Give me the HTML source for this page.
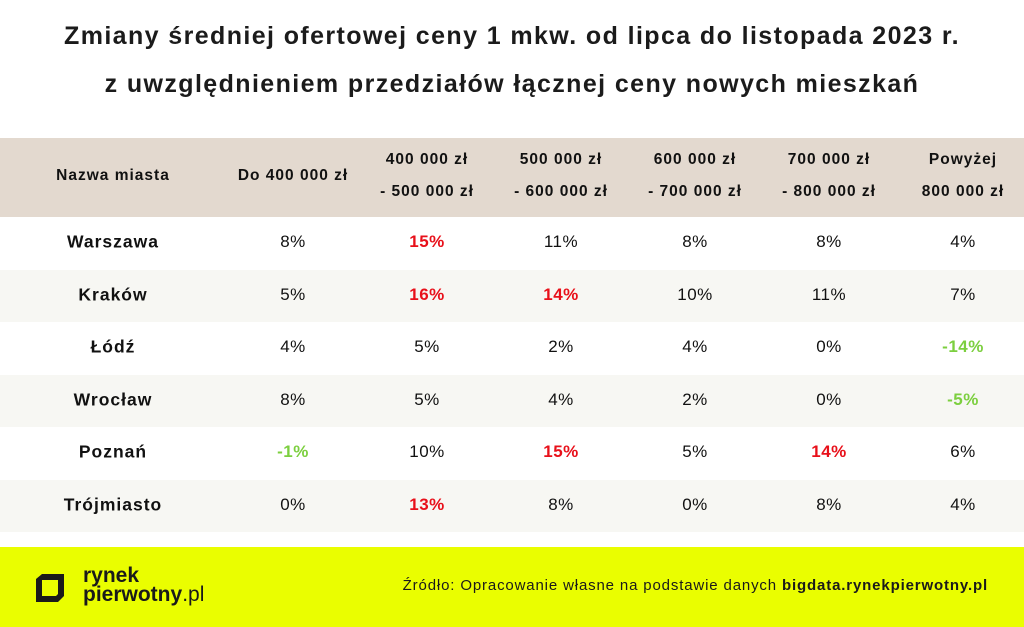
<!DOCTYPE html>
<html><head><meta charset="utf-8"><style>
body{margin:0;width:1024px;height:627px;background:#fff;font-family:"Liberation Sans",sans-serif;position:relative;overflow:hidden;color:#111}
.t{position:absolute;left:0;width:1024px;text-align:center;font-weight:bold;font-size:25px;letter-spacing:1.4px;color:#1b1b1b}
.band{position:absolute;left:0;width:1024px}
.c{position:absolute;transform:translate(-50%,-50%);white-space:nowrap;text-align:center;font-size:17px;letter-spacing:0.5px}
.h{font-weight:bold;font-size:15.5px;line-height:32px;letter-spacing:1px}
.n{font-weight:bold;font-size:17.5px;letter-spacing:1px}
.r{color:#e8101a;font-weight:bold}
.g{color:#7ccf3f;font-weight:bold}
</style></head><body>
<div class="t" style="top:22px">Zmiany średniej ofertowej ceny 1 mkw. od lipca do listopada 2023 r.</div>
<div class="t" style="top:70px">z uwzględnieniem przedziałów łącznej ceny nowych mieszkań</div>
<div class="band" style="top:138px;height:79px;background:#e3d9cf"></div>
<div class="band" style="top:270px;height:52px;background:#f7f7f3"></div>
<div class="band" style="top:375px;height:52px;background:#f7f7f3"></div>
<div class="band" style="top:480px;height:52px;background:#f7f7f3"></div>
<div class="band" style="top:547px;height:80px;background:#eafe00"></div>
<div id="g"></div>
<svg style="position:absolute;left:34px;top:572px" width="32" height="32" viewBox="0 0 32 32"><path d="M2 7 L8 2 L30 2 L30 24 L24 30 L2 30 Z M8 8 L8 24 L22 24 L24 22 L24 8 Z" fill="#1a1a1a" fill-rule="evenodd"/></svg>
<div style="position:absolute;left:83px;top:566px;font-size:21px;font-weight:bold;line-height:19px;color:#1a1a1a;letter-spacing:0px">rynek<br>pierwotny<span style="font-weight:normal">.pl</span></div>
<div style="position:absolute;right:36px;top:577px;font-size:15px;letter-spacing:0.85px;color:#1a1a1a">Źródło: Opracowanie własne na podstawie danych <b>bigdata.rynekpierwotny.pl</b></div>
<script>
var xs=[113,293,427,561,695,829,963];
var hd=["Nazwa miasta","Do 400 000 zł","400 000 zł<br>- 500 000 zł","500 000 zł<br>- 600 000 zł","600 000 zł<br>- 700 000 zł","700 000 zł<br>- 800 000 zł","Powyżej<br>800 000 zł"];
var rows=[["Warszawa","8%","r15%","11%","8%","8%","4%"],["Kraków","5%","r16%","r14%","10%","11%","7%"],["Łódź","4%","5%","2%","4%","0%","g-14%"],["Wrocław","8%","5%","4%","2%","0%","g-5%"],["Poznań","g-1%","10%","r15%","5%","r14%","6%"],["Trójmiasto","0%","r13%","8%","0%","8%","4%"]];
var h="";
hd.forEach(function(t,i){h+='<div class="c h" style="left:'+xs[i]+'px;top:176px">'+t+'</div>';});
rows.forEach(function(r,j){var y=242+j*52.5;r.forEach(function(v,i){var cl="c";if(i==0)cl+=" n";else if(v[0]=="r"){cl+=" r";v=v.slice(1)}else if(v[0]=="g"){cl+=" g";v=v.slice(1)}h+='<div class="'+cl+'" style="left:'+xs[i]+'px;top:'+y+'px">'+v+'</div>';});});
document.getElementById("g").innerHTML=h;
</script>
</body></html>
